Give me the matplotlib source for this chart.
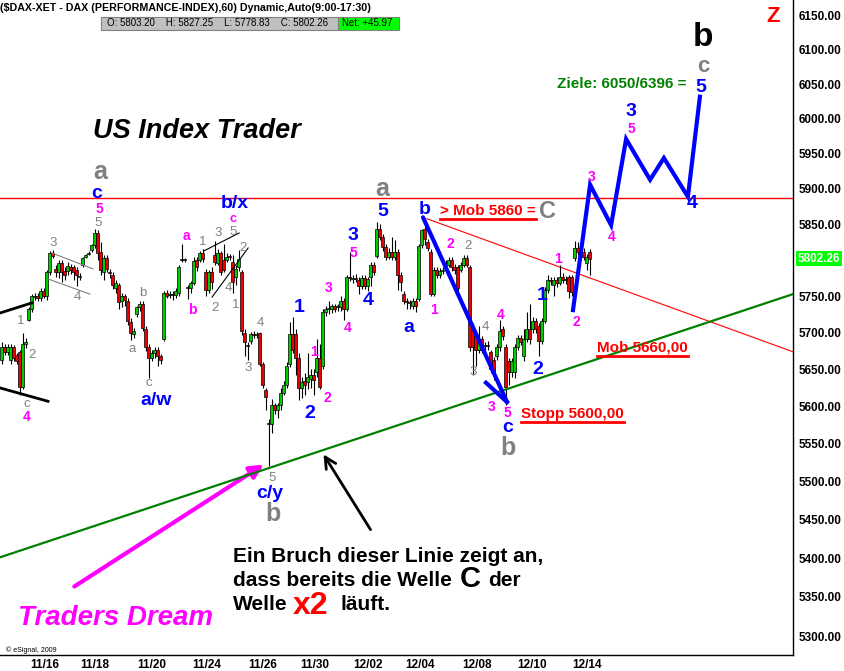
import numpy as np
import matplotlib
matplotlib.use("Agg")
import matplotlib.pyplot as plt
from matplotlib.patches import Rectangle
from matplotlib.lines import Line2D
from matplotlib.ticker import NullLocator

plt.rcParams['font.family'] = ['Liberation Sans', 'DejaVu Sans']

# DAX hourly bars (60 min) (log price scale)
opens = [5663, 5681, 5674, 5663, 5680, 5669, 5674, 5626, 5684, 5718,
         5732, 5749, 5750, 5747, 5757, 5750, 5783, 5810, 5788, 5784,
         5796, 5785, 5785, 5790, 5790, 5787, 5777, 5794, 5805, 5809,
         5814, 5821, 5838, 5811, 5783, 5803, 5783, 5780, 5762, 5766,
         5743, 5750, 5743, 5714, 5698, 5725, 5735, 5740, 5705, 5681,
         5666, 5673, 5677, 5668, 5691, 5755, 5752, 5753, 5752, 5755,
         5801, 5800, 5762, 5762, 5769, 5800, 5800, 5810, 5784, 5759,
         5784, 5807, 5796, 5810, 5800, 5800, 5806, 5798, 5776, 5790,
         5784, 5700, 5683, 5689, 5698, 5697, 5699, 5657, 5622, 5578,
         5577, 5602, 5595, 5602, 5618, 5629, 5657, 5698, 5698, 5666,
         5625, 5635, 5633, 5637, 5643, 5646, 5665, 5654, 5728, 5732,
         5732, 5736, 5735, 5735, 5743, 5733, 5776, 5774, 5775, 5772,
         5764, 5775, 5764, 5777, 5794, 5806, 5843, 5833, 5818, 5805,
         5812, 5805, 5812, 5779, 5753, 5743, 5742, 5737, 5743, 5746,
         5821, 5843, 5825, 5812, 5753, 5787, 5780, 5785, 5791, 5794,
         5800, 5791, 5790, 5787, 5794, 5803, 5791, 5707, 5695, 5677,
         5691, 5682, 5683, 5674, 5663, 5668, 5681, 5705, 5681, 5661,
         5647, 5647, 5681, 5693, 5668, 5691, 5705, 5705, 5716, 5709,
         5688, 5716, 5759, 5773, 5766, 5773, 5769, 5777, 5773, 5776,
         5776, 5803.20, 5817, 5807, 5812, 5796, 5812]
highs = [5687, 5685, 5684, 5685, 5683, 5673, 5677, 5700, 5693, 5735,
         5753, 5755, 5754, 5761, 5761, 5787, 5813, 5814, 5793, 5800,
         5800, 5791, 5797, 5795, 5793, 5791, 5782, 5805, 5809, 5813,
         5823, 5844, 5842, 5825, 5807, 5807, 5788, 5783, 5773, 5769,
         5755, 5753, 5747, 5720, 5707, 5737, 5743, 5743, 5709, 5685,
         5677, 5680, 5680, 5671, 5757, 5759, 5757, 5758, 5761, 5793,
         5822, 5803, 5765, 5771, 5805, 5805, 5813, 5815, 5788, 5787,
         5790, 5827, 5815, 5813, 5823, 5810, 5809, 5807, 5793, 5814,
         5787, 5705, 5687, 5701, 5703, 5701, 5701, 5660, 5625, 5583,
         5610, 5605, 5605, 5625, 5635, 5660, 5714, 5721, 5705, 5673,
         5640, 5645, 5672, 5650, 5650, 5691, 5684, 5733, 5737, 5743,
         5740, 5740, 5740, 5751, 5747, 5779, 5812, 5779, 5781, 5777,
         5779, 5779, 5777, 5797, 5797, 5853, 5851, 5837, 5823, 5817,
         5832, 5828, 5815, 5783, 5757, 5747, 5745, 5747, 5747, 5823,
         5844, 5847, 5829, 5815, 5791, 5791, 5789, 5790, 5800, 5805,
         5805, 5795, 5793, 5797, 5807, 5807, 5794, 5713, 5700, 5709,
         5695, 5687, 5688, 5677, 5667, 5685, 5718, 5709, 5685, 5665,
         5665, 5685, 5697, 5697, 5705, 5729, 5739, 5721, 5720, 5713,
         5720, 5763, 5780, 5777, 5777, 5777, 5794, 5782, 5778, 5780,
         5780, 5827.25, 5825, 5819, 5817, 5809, 5815]
lows = [5657, 5670, 5670, 5657, 5661, 5657, 5615, 5623, 5679, 5716,
        5729, 5745, 5743, 5743, 5747, 5745, 5780, 5803, 5777, 5775,
        5770, 5773, 5780, 5781, 5773, 5764, 5772, 5791, 5803, 5807,
        5811, 5817, 5800, 5780, 5772, 5783, 5775, 5760, 5755, 5733,
        5735, 5737, 5711, 5690, 5693, 5721, 5730, 5703, 5675, 5639,
        5661, 5665, 5654, 5658, 5689, 5747, 5747, 5745, 5747, 5751,
        5797, 5797, 5746, 5755, 5765, 5785, 5797, 5797, 5750, 5755,
        5760, 5793, 5793, 5780, 5783, 5797, 5800, 5755, 5765, 5785,
        5697, 5668, 5663, 5685, 5693, 5693, 5655, 5625, 5595, 5520,
        5565, 5590, 5585, 5595, 5615, 5625, 5653, 5673, 5643, 5609,
        5611, 5615, 5623, 5625, 5615, 5640, 5623, 5650, 5723, 5725,
        5727, 5729, 5730, 5730, 5718, 5730, 5771, 5769, 5770, 5753,
        5760, 5760, 5757, 5764, 5779, 5803, 5828, 5813, 5800, 5801,
        5800, 5800, 5759, 5757, 5739, 5732, 5733, 5732, 5729, 5743,
        5817, 5821, 5813, 5750, 5750, 5775, 5775, 5781, 5785, 5790,
        5785, 5781, 5757, 5783, 5790, 5790, 5675, 5643, 5654, 5673,
        5673, 5675, 5677, 5645, 5636, 5663, 5675, 5690, 5602, 5629,
        5640, 5639, 5677, 5683, 5661, 5687, 5685, 5700, 5700, 5668,
        5685, 5713, 5755, 5765, 5750, 5763, 5765, 5768, 5767, 5748,
        5750, 5799, 5807, 5803, 5800, 5787, 5778.83]
closes = [5681, 5674, 5680, 5680, 5666, 5661, 5626, 5684, 5687, 5732,
          5750, 5751, 5748, 5757, 5750, 5783, 5810, 5806, 5783, 5796,
          5783, 5779, 5792, 5786, 5783, 5780, 5778, 5803, 5807, 5810,
          5821, 5838, 5810, 5787, 5803, 5788, 5782, 5766, 5769, 5742,
          5750, 5745, 5716, 5700, 5702, 5735, 5739, 5707, 5681, 5666,
          5673, 5677, 5668, 5663, 5755, 5751, 5753, 5752, 5757, 5790,
          5800, 5801, 5761, 5768, 5799, 5791, 5810, 5802, 5759, 5783,
          5770, 5798, 5810, 5783, 5787, 5805, 5804, 5770, 5788, 5802,
          5702, 5687, 5682, 5698, 5697, 5698, 5657, 5629, 5613, 5576,
          5602, 5595, 5602, 5618, 5629, 5654, 5698, 5677, 5666, 5625,
          5633, 5629, 5640, 5642, 5636, 5665, 5626, 5728, 5733, 5734,
          5737, 5733, 5736, 5743, 5733, 5776, 5775, 5775, 5774, 5764,
          5775, 5764, 5774, 5794, 5783, 5843, 5832, 5818, 5805, 5812,
          5805, 5812, 5780, 5770, 5743, 5742, 5741, 5743, 5737, 5820,
          5842, 5829, 5817, 5753, 5787, 5780, 5785, 5786, 5790, 5800,
          5791, 5787, 5762, 5794, 5803, 5794, 5681, 5681, 5677, 5691,
          5677, 5683, 5682, 5650, 5646, 5681, 5702, 5695, 5626, 5647,
          5661, 5681, 5693, 5687, 5691, 5705, 5691, 5716, 5705, 5688,
          5716, 5759, 5773, 5771, 5773, 5768, 5777, 5773, 5774, 5757,
          5756.29, 5817, 5812, 5814, 5805, 5805, 5802.26]

date_labels = ['11/16', '11/18', '11/20', '11/24', '11/26', '11/30',
               '12/02', '12/04', '12/08', '12/10', '12/14']
date_bars = [14.5, 31, 50, 68.5, 87, 104.5, 122, 139.5, 158.5, 177, 195]
price_ticks = [5300, 5350, 5400, 5450, 5500, 5550, 5600, 5650, 5700, 5750,
               5850, 5900, 5950, 6000, 6050, 6100, 6150]
last_price = 5802.26

# analyst drawings (bar index, price)
green_trend = ([-0.5, 263.8], [5401, 5753])
red_level = 5887
red_trend = ([141.8, 263.8], [5858, 5674])
b_to_c = ([140.5, 168.5], [5860, 5606])
c_tick = ([161.5, 168.5], [5632, 5606])
projection_x = [190.5, 196.2, 203.2, 208.2, 216.2, 220.8, 228.8, 232.8]
projection_y = [5731, 5906, 5849, 5971, 5913, 5944, 5889, 6032]
thin_gray = [([16.8, 30.5], [5810, 5788]), ([15.5, 29.5], [5774, 5753])]
thin_black = [([67.5, 79.2], [5813, 5838]), ([70.2, 82.2], [5749, 5817])]
thick_black = [([-0.5, 10.2], [5727, 5741]), ([-0.5, 15.5], [5625, 5607])]

W, H = 844, 671
fig = plt.figure(figsize=(W / 100, H / 100), dpi=100)
ax = fig.add_axes([0, 16 / H, 793 / W, 655 / H])
ax.set_yscale('log')
ax.set_xlim(-0.5, 263.83)
ax.set_ylim(5275.9, 6173.6)

o = np.array(opens)
c = np.array(closes)
x = np.arange(len(c))
up = c >= o
body = np.maximum(np.abs(c - o), 1.5)
ax.vlines(x, lows, highs, color='black', lw=0.8, zorder=2)
ax.bar(x, body, bottom=np.minimum(o, c), width=0.8,
       color=np.where(up, '#00cc00', '#ee0000'), edgecolor='black',
       linewidth=0.5, zorder=3)

ax.axhline(red_level, color='#ff0000', lw=1, zorder=1)
ax.plot(*red_trend, color='#ff0000', lw=0.8, zorder=1)
ax.plot(*green_trend, color='#008000', lw=1.6, zorder=4)
for seg in thin_gray:
    ax.plot(*seg, color='#808080', lw=0.8, zorder=4)
for seg in thin_black:
    ax.plot(*seg, color='black', lw=0.8, zorder=4)
for seg in thick_black:
    ax.plot(*seg, color='black', lw=2, zorder=4)
ax.plot(*b_to_c, color='#0000ff', lw=3, zorder=5, solid_capstyle='round')
ax.plot(*c_tick, color='#0000ff', lw=3, zorder=5)
ax.plot(projection_x, projection_y, color='#0000ff', lw=3, zorder=5,
        solid_joinstyle='miter')

for s in ['left', 'top']:
    ax.spines[s].set_visible(False)
for s in ['right', 'bottom']:
    ax.spines[s].set_color('black')
    ax.spines[s].set_linewidth(1)

ax.yaxis.tick_right()
ax.set_yticks(price_ticks)
ax.set_yticklabels(['%.2f' % v for v in price_ticks], fontsize=8.5,
                   fontweight='bold')
ax.yaxis.set_minor_locator(NullLocator())
ax.tick_params(axis='y', length=0, pad=4)
ax.set_xticks(date_bars)
ax.set_xticklabels(date_labels, fontsize=8.5, fontweight='bold')
ax.tick_params(axis='x', length=0, pad=3)

ax.text(1.006, last_price, '%.2f' % last_price, transform=ax.get_yaxis_transform(),
        ha='left', va='center', fontsize=8.5, fontweight='bold', color='white',
        bbox=dict(boxstyle='square,pad=0.15', fc='#00ff00', ec='none'))


def ft(px, py, s, color='black', size=10, weight='bold', ha='center', **kw):
    return fig.text(px / W, 1 - py / H, s, color=color, fontsize=size,
                    fontweight=weight, ha=ha, va='center', **kw)


def arrow(x0, y0, x1, y1, color, lw, style):
    ax.annotate('', xy=(x1 / W, 1 - y1 / H), xycoords='figure fraction',
                xytext=(x0 / W, 1 - y0 / H), textcoords='figure fraction',
                arrowprops=dict(arrowstyle=style, color=color, lw=lw))


arrow(72, 588, 266, 463, '#ff00ff', 3, '-|>,head_length=0.8,head_width=0.4')
arrow(372, 532, 322, 452, 'black', 2, '->,head_length=0.8,head_width=0.4')

# header
ft(0, 8, '($DAX-XET - DAX (PERFORMANCE-INDEX),60) Dynamic,Auto(9:00-17:30)',
   size=7.7, ha='left')
fig.add_artist(Rectangle((101 / W, 1 - 30 / H), 237 / W, 13 / H, transform=fig.transFigure,
                         fc='#c0c0c0', ec='#808080', lw=0.8))
fig.add_artist(Rectangle((338 / W, 1 - 30 / H), 61 / W, 13 / H, transform=fig.transFigure,
                         fc='#00ff00', ec='#808080', lw=0.8))
ft(107, 23, 'O: 5803.20    H: 5827.25    L: 5778.83    C: 5802.26', size=7,
   weight='normal', ha='left')
ft(342, 23, 'Net: +45.97', size=7, weight='normal', ha='left')

ft(93, 131, 'US Index Trader', size=19.5, ha='left', style='italic')
ft(18, 618, 'Traders Dream', color='#ff00ff', size=20, ha='left', style='italic')
ft(6, 650, '\u00a9 eSignal, 2009', size=5, weight='normal', ha='left')
ft(773, 17, 'Z', color='#ff0000', size=16)
ft(703, 37, 'b', size=24)
ft(703, 67, 'c', color='#808080', size=16)
ft(557, 84, 'Ziele: 6050/6396 =', color='#008000', size=11, ha='left')

# German comment
ft(233, 557, 'Ein Bruch dieser Linie zeigt an,', size=15, ha='left')
ft(233, 581, 'dass bereits die Welle', size=15, ha='left')
ft(470, 579, 'C', size=21)
ft(488, 581, 'der', size=15, ha='left')
ft(233, 605, 'Welle', size=15, ha='left')
ft(311, 606, 'x2', color='#ff0000', size=23)
ft(341, 605, 'l\u00e4uft.', size=15, ha='left')

# red underlined notes
notes = [ft(440, 211, '> Mob 5860 =', color='#ff0000', size=11, ha='left'),
         ft(597, 348, 'Mob 5660,00', color='#ff0000', size=11, ha='left'),
         ft(521, 414, 'Stopp 5600,00', color='#ff0000', size=11, ha='left')]
ft(548, 211, 'C', color='#808080', size=17)

gray_big = [(100, 172, 'a'), (382, 189, 'a'), (273, 514, 'b'), (508, 448, 'b')]
for px, py, s in gray_big:
    ft(px, py, s, color='#808080', size=18)

blue = [(97, 193, 'c'), (235, 203, 'b/x'), (156, 401, 'a/w'), (383, 211, '5'),
        (353, 235, '3'), (368, 301, '4'), (299, 307, '1'), (310, 414, '2'),
        (409, 327, 'a'), (425, 210, 'b'), (542, 295, '1'), (538, 370, '2'),
        (508, 427, 'c'), (270, 493, 'c/y'), (631, 112, '3'), (692, 203, '4'),
        (701, 87, '5')]
for px, py, s in blue:
    ft(px, py, s, color='#0000ff', size=14)

magenta = [(99, 209, '5'), (233, 219, 'c'), (186, 236, 'a'), (192, 310, 'b'),
           (27, 417, '4'), (314, 352, '1'), (327, 398, '2'), (329, 288, '3'),
           (348, 328, '4'), (353, 253, '5'), (450, 244, '2'), (434, 310, '1'),
           (501, 315, '4'), (492, 407, '3'), (507, 413, '5'), (558, 259, '1'),
           (576, 322, '2'), (592, 177, '3'), (612, 237, '4'), (631, 129, '5')]
for px, py, s in magenta:
    ft(px, py, s, color='#ff00ff', size=9 if s == 'c' else 10)

gray_small = [(98, 223, '5'), (53, 243, '3'), (77, 297, '4'), (21, 321, '1'),
              (32, 355, '2'), (27, 404, 'c'), (143, 293, 'b'), (132, 349, 'a'),
              (149, 383, 'c'), (203, 242, '1'), (218, 233, '3'), (233, 232, '5'),
              (243, 248, '2'), (228, 288, '4'), (215, 308, '2'), (236, 305, '1'),
              (260, 323, '4'), (248, 368, '3'), (272, 478, '5'), (468, 246, '2'),
              (485, 327, '4'), (473, 372, '3')]
for px, py, s in gray_small:
    ft(px, py, s, color='#808080', size=9.5, weight='normal')

fig.canvas.draw()
rend = fig.canvas.get_renderer()
for t in notes:
    bb = t.get_window_extent(rend).transformed(fig.transFigure.inverted())
    fig.add_artist(Line2D([bb.x0, bb.x1], [bb.y0 - 0.002, bb.y0 - 0.002],
                          color='#ff0000', lw=2, transform=fig.transFigure))

fig.savefig('out.png', dpi=100, facecolor='white')
